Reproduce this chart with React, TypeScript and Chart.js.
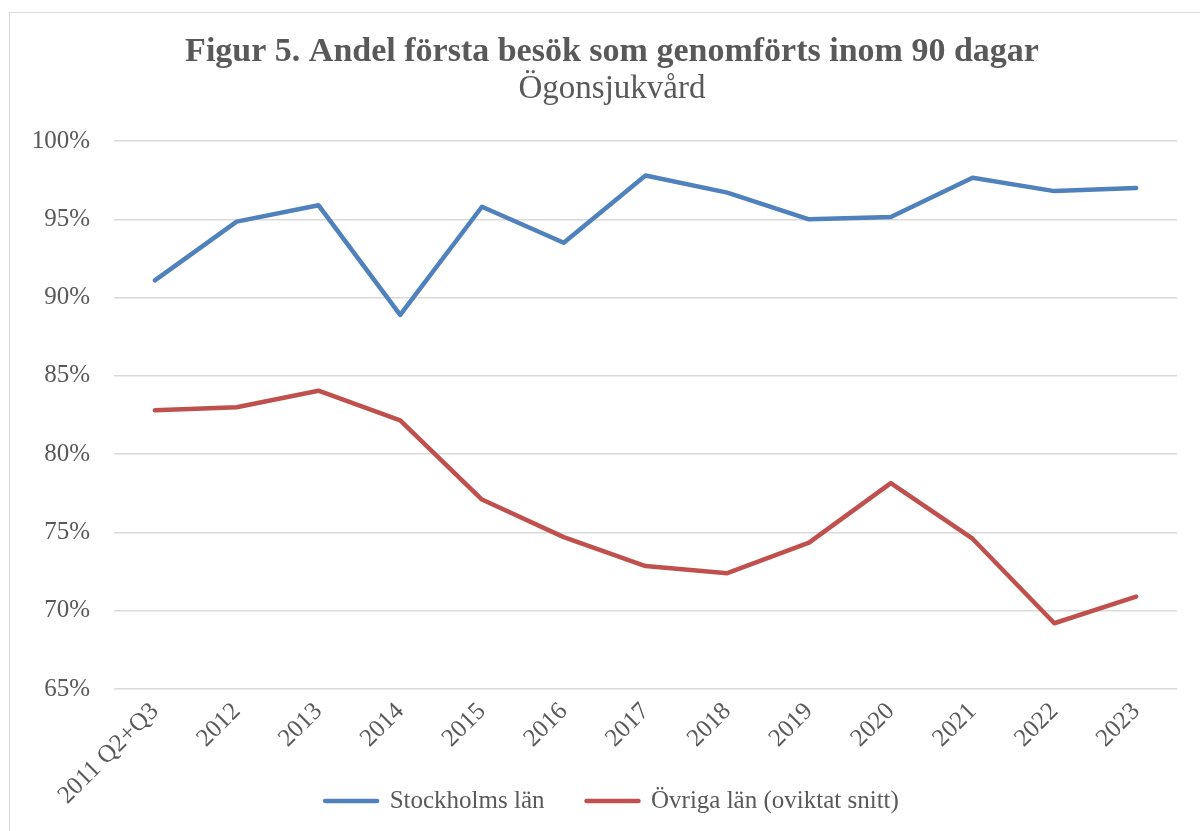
import React, { useEffect, useRef } from "react";
import { Chart, registerables } from "chart.js";

Chart.register(...registerables);

const categories = [
  "2011 Q2+Q3", "2012", "2013", "2014", "2015", "2016", "2017",
  "2018", "2019", "2020", "2021", "2022", "2023",
];
const stockholm = [91.1, 94.85, 95.9, 88.9, 95.8, 93.5, 97.8, 96.7, 95.0, 95.15, 97.65, 96.8, 97.0];
const ovriga = [82.8, 83.0, 84.05, 82.15, 77.1, 74.7, 72.85, 72.4, 74.35, 78.15, 74.6, 69.2, 70.9];
const yTicks = [65, 70, 75, 80, 85, 90, 95, 100];

const FONT = "'Liberation Serif', 'DejaVu Serif', serif";
const TEXT = "#595959";

export default function App() {
  const ref = useRef<HTMLCanvasElement | null>(null);

  useEffect(() => {
    if (!ref.current) return;
    const chart = new Chart(ref.current, {
      type: "line",
      data: {
        labels: categories,
        datasets: [
          {
            label: "Stockholms län",
            data: stockholm,
            borderColor: "#4f81bd",
            backgroundColor: "#4f81bd",
            borderWidth: 4.5,
            pointRadius: 0,
            borderCapStyle: "round",
            borderJoinStyle: "round",
            tension: 0,
          },
          {
            label: "Övriga län (oviktat snitt)",
            data: ovriga,
            borderColor: "#c0504d",
            backgroundColor: "#c0504d",
            borderWidth: 4.5,
            pointRadius: 0,
            borderCapStyle: "round",
            borderJoinStyle: "round",
            tension: 0,
          },
        ],
      },
      options: {
        responsive: false,
        animation: false,
        layout: { padding: { left: 47, right: 47, top: 12, bottom: 7.5 } },
        plugins: {
          title: {
            display: true,
            text: "Figur 5. Andel första besök som genomförts inom 90 dagar",
            color: TEXT,
            font: { family: FONT, size: 34, weight: "bold", lineHeight: 1.1 },
            padding: { top: 21.8, bottom: 0 },
          },
          subtitle: {
            display: true,
            text: "Ögonsjukvård",
            color: TEXT,
            font: { family: FONT, size: 33, weight: "normal", lineHeight: 1.1 },
            padding: { top: 0, bottom: 33.5 },
          },
          legend: {
            position: "bottom",
            labels: {
              color: TEXT,
              font: { family: FONT, size: 25 },
              boxWidth: 52,
              boxHeight: 0,
              padding: 42,
            },
          },
          tooltip: { enabled: false },
        },
        scales: {
          x: {
            offset: true,
            grid: { display: false, drawTicks: false },
            border: { display: false },
            ticks: {
              color: TEXT,
              font: { family: FONT, size: 25 },
              minRotation: 45,
              maxRotation: 45,
              padding: 8,
              autoSkip: false,
            },
            afterFit: (scale: any) => {
              scale.height = 57.5;
              scale._computeLabelArea = () => undefined;
            },
          },
          y: {
            min: 65,
            max: 100,
            grid: { color: "#d9d9d9", lineWidth: 1.5, drawTicks: false },
            border: { display: false },
            afterBuildTicks: (scale: any) => {
              scale.ticks = yTicks.map((v) => ({ value: v }));
            },
            ticks: {
              color: TEXT,
              font: { family: FONT, size: 25 },
              padding: 24,
              callback: (v: any) => `${v}%`,
            },
            afterFit: (scale: any) => {
              scale.width = 67;
              scale._computeLabelArea = () => undefined;
            },
          },
        },
      },
    });
    return () => chart.destroy();
  }, []);

  return (
    <div
      style={{
        position: "fixed",
        left: 0,
        top: 0,
        width: 1200,
        height: 831,
        overflow: "hidden",
        background: "#fff",
      }}
    >
      <div
        style={{
          position: "absolute",
          left: 9,
          top: 12,
          width: 1300,
          height: 900,
          border: "1px solid #d9d9d9",
        }}
      />
      <canvas
        ref={ref}
        width={1224}
        height={831}
        style={{ position: "absolute", left: 0, top: 0, width: 1224, height: 831 }}
      />
    </div>
  );
}
